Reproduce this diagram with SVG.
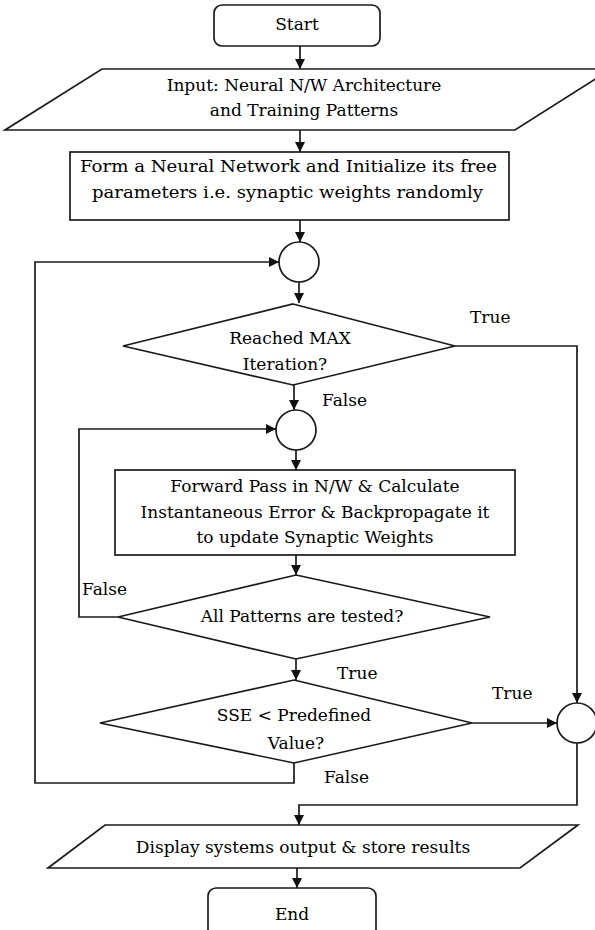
<svg xmlns="http://www.w3.org/2000/svg" width="595" height="930" viewBox="0 0 595 930">
  <defs>
    <marker id="arrow" viewBox="0 0 10 10" refX="10" refY="5" markerWidth="10" markerHeight="10" markerUnits="userSpaceOnUse" orient="auto">
      <path d="M0,0 L10,5 L0,10 Z" fill="#111"/>
    </marker>
  </defs>
  <style>
    .shape { fill: #fff; stroke: #1a1a1a; stroke-width: 1.7; }
    .line { fill: none; stroke: #1a1a1a; stroke-width: 1.7; }
    text { font-family: "DejaVu Serif", "Liberation Serif", serif; font-size: 17px; fill: #000; text-anchor: middle; }
    .lbl { text-anchor: start; }
  </style>
  <rect width="595" height="930" fill="#fff"/>

  <!-- connectors -->
  <g id="connectors">
    <path class="line" d="M300,46 V69" marker-end="url(#arrow)"/>
    <path class="line" d="M300,130 V152" marker-end="url(#arrow)"/>
    <path class="line" d="M300,220 V242" marker-end="url(#arrow)"/>
    <path class="line" d="M299,282 V303" marker-end="url(#arrow)"/>
    <!-- outer loop back to first junction -->
    <path class="line" d="M294,763 V783 H35 V262 H279" marker-end="url(#arrow)"/>
    <!-- True from MAX iteration -->
    <path class="line" d="M455,346 H577 V703" marker-end="url(#arrow)"/>
    <path class="line" d="M294,385 V410" marker-end="url(#arrow)"/>
    <path class="line" d="M296,450 V470" marker-end="url(#arrow)"/>
    <!-- inner loop back to second junction -->
    <path class="line" d="M118,617 H79 V429 H276" marker-end="url(#arrow)"/>
    <path class="line" d="M296,555 V575" marker-end="url(#arrow)"/>
    <path class="line" d="M296,659 V680" marker-end="url(#arrow)"/>
    <path class="line" d="M472,723 H557" marker-end="url(#arrow)"/>
    <path class="line" d="M577,743 V805 H299 V825" marker-end="url(#arrow)"/>
    <path class="line" d="M297,868 V888" marker-end="url(#arrow)"/>
  </g>

  <g id="start">
    <rect class="shape" x="214" y="5" width="166" height="41" rx="8"/>
    <text x="297" y="30">Start</text>
  </g>

  <g id="input">
    <polygon class="shape" points="102,69 611,69 515,130 5,130"/>
    <text x="304" y="91">Input: Neural N/W Architecture</text>
    <text x="304" y="116">and Training Patterns</text>
  </g>

  <g id="init">
    <rect class="shape" x="70" y="152" width="439" height="68"/>
    <text x="288.5" y="172" textLength="417" lengthAdjust="spacingAndGlyphs">Form a Neural Network and Initialize its free</text>
    <text x="287.5" y="198" textLength="391" lengthAdjust="spacingAndGlyphs">parameters i.e. synaptic weights randomly</text>
  </g>

  <g id="junction1">
    <circle class="shape" cx="299" cy="262" r="20"/>
  </g>

  <g id="max-iteration">
    <polygon class="shape" points="293,304 455,346 293,385 123,346"/>
    <text x="290" y="344">Reached MAX</text>
    <text x="285" y="370">Iteration?</text>
  </g>

  <g id="junction2">
    <circle class="shape" cx="296" cy="430" r="20"/>
  </g>

  <g id="train">
    <rect class="shape" x="115" y="470" width="400" height="85"/>
    <text x="315" y="492">Forward Pass in N/W &amp; Calculate</text>
    <text x="315" y="518">Instantaneous Error &amp; Backpropagate it</text>
    <text x="315" y="543">to update Synaptic Weights</text>
  </g>

  <g id="all-patterns">
    <polygon class="shape" points="296,575 490,617 296,659 118,617"/>
    <text x="302" y="622">All Patterns are tested?</text>
  </g>

  <g id="sse">
    <polygon class="shape" points="294,680 472,723 294,763 100,723"/>
    <text x="294" y="721">SSE &lt; Predefined</text>
    <text x="296" y="749">Value?</text>
  </g>

  <g id="junction3">
    <circle class="shape" cx="577" cy="723" r="20"/>
  </g>

  <g id="output">
    <polygon class="shape" points="105,825 578,825 520,868 48,868"/>
    <text x="303" y="853">Display systems output &amp; store results</text>
  </g>

  <g id="end">
    <rect class="shape" x="208" y="888" width="168" height="50" rx="8"/>
    <text x="292" y="920">End</text>
  </g>

  <!-- branch labels -->
  <g id="labels">
    <text class="lbl" x="470" y="323">True</text>
    <text class="lbl" x="322" y="406">False</text>
    <text class="lbl" x="82" y="595">False</text>
    <text class="lbl" x="337" y="679">True</text>
    <text class="lbl" x="492" y="699">True</text>
    <text class="lbl" x="324" y="783">False</text>
  </g>
</svg>
